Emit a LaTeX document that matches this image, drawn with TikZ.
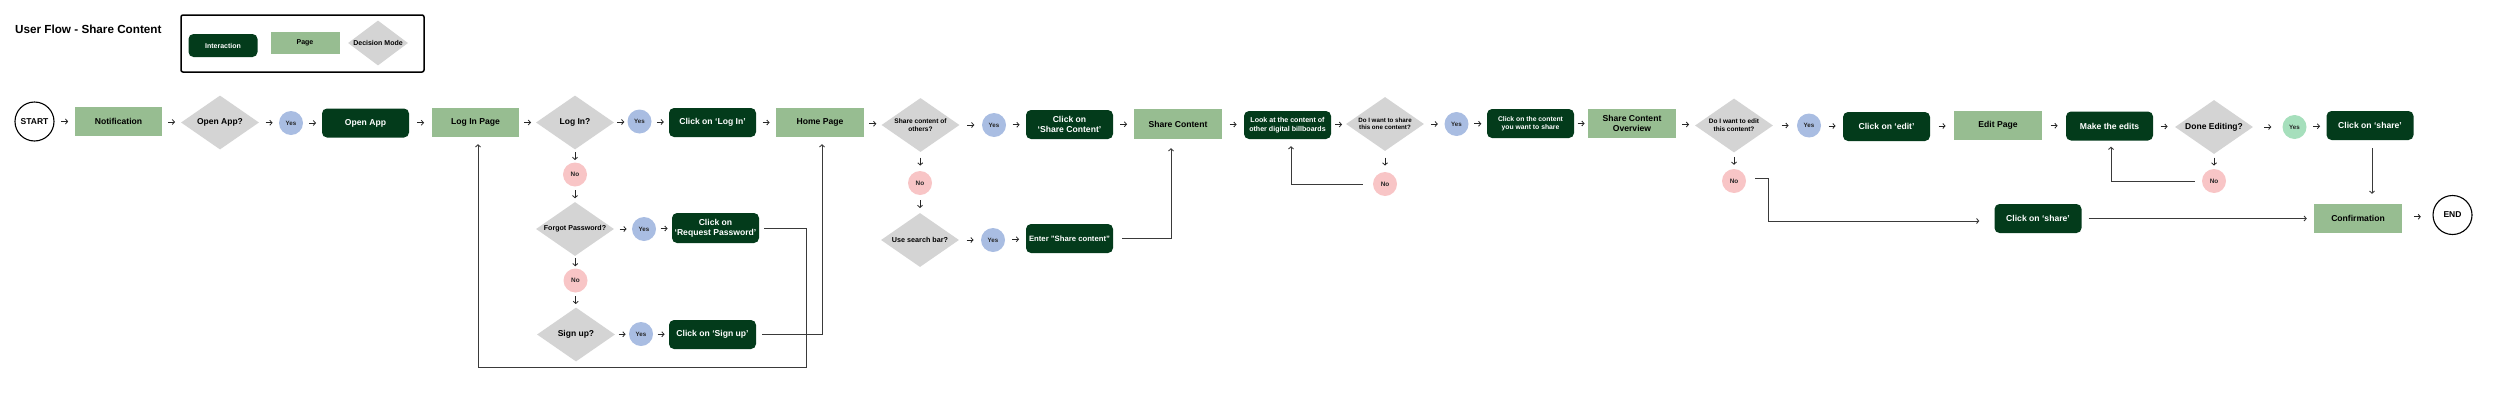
\documentclass[tikz,border=0pt]{standalone}
\usepackage{fontspec}
\setmainfont{Liberation Sans}
\usetikzlibrary{shapes.geometric,arrows.meta,calc}
\definecolor{idark}{HTML}{033B1B}
\definecolor{pgreen}{HTML}{97BD91}
\definecolor{dgray}{HTML}{D4D4D4}
\definecolor{yblue}{HTML}{A9BDE2}
\definecolor{npink}{HTML}{F8C5C6}
\definecolor{ygreen}{HTML}{A6DFBC}
\definecolor{lgray}{HTML}{3A3A3A}
\newcommand\fs[1]{\bfseries\fontsize{#1}{1.2\dimexpr#1pt\relax}\selectfont}
\tikzset{
  inter/.style={fill=idark, rounded corners=5pt, minimum width=87pt, minimum height=29pt,
    text=white, font=\fs{8.6}, align=center, inner sep=0pt},
  pagebox/.style={fill=pgreen, minimum width=88pt, minimum height=29pt, text=black,
    font=\fs{8.6}, align=center, inner sep=0pt},
  dec/.style={diamond, fill=dgray, minimum width=78pt, minimum height=54pt, shape aspect=1.45,
    inner sep=0pt, align=center, text=black},
  yesb/.style={circle, fill=yblue, minimum size=24pt, inner sep=0pt, font=\fs{6.2}, text=black!85},
  yesg/.style={yesb, fill=ygreen},
  nob/.style={circle, fill=npink, minimum size=24pt, inner sep=0pt, font=\fs{6.4}, text=black!85},
  term/.style={circle, draw=black, line width=1.1pt, minimum size=39pt, inner sep=0pt, font=\fs{8.5}},
  sar/.style={-{Straight Barb[length=2.2pt,width=5pt]}, line width=0.8pt, black!85},
  con/.style={-{Straight Barb[length=2.2pt,width=5pt]}, line width=0.9pt, lgray},
}
\newcommand\harr[2]{\draw[sar] ($(#1.east)!0.5!(#2.west)+(-3.5,0)$) -- ++(7,0);}
\newcommand\varr[2]{\draw[sar] ($(#1.south)!0.5!(#2.north)+(0,-4)$) -- ++(0,8);}
\begin{document}
\begin{tikzpicture}[x=1pt,y=-1pt]
\useasboundingbox (0,0) rectangle (2500,410);
% title and legend
\node[anchor=west, font=\fs{11.7}, inner sep=0pt] (title) at (15,29) {User Flow - Share Content};
\draw[line width=1.5pt, rounded corners=2pt] (181,15) rectangle (424,72);
\node[inter, minimum width=69pt, minimum height=23pt, font=\fs{7}] (lint) at (223,45.5) {Interaction};
\node[pagebox, minimum width=69pt, minimum height=22pt, font=\fs{7}] (lpage) at (305,43) {Page};
\node[dec, minimum width=60pt, minimum height=45pt, shape aspect=1.33, font=\fs{7}] (ldec) at (378,43) {Decision Mode};
% main row
\node[term] (start) at (34.5,121.5) {START};
\node[pagebox, minimum width=87pt] (notif) at (118.5,121.5) {Notification};
\node[dec, font=\fs{8.5}] (openq) at (220,122.5) {Open App?};
\node[yesb] (yes1) at (291,123) {Yes};
\node[inter] (openapp) at (365.5,123) {Open App};
\node[pagebox, minimum width=87pt] (loginpage) at (475.5,122.5) {Log In Page};
\node[dec, font=\fs{8.5}] (loginq) at (575,122.5) {Log In?};
\node[yesb] (yes2) at (639.5,121.5) {Yes};
\node[inter] (clicklogin) at (712.5,122.5) {Click on `Log In'};
\node[pagebox] (home) at (820,122.5) {Home Page};
% login branch
\node[nob] (no1) at (575,174.5) {No};
\node[dec, font=\fs{7.1}] (forgotq) at (575,229) {Forgot Password?};
\node[yesb] (yes3) at (644,229) {Yes};
\node[inter, minimum height=30pt] (reqpw) at (715.5,228) {Click on\\`Request Password'};
\node[nob] (no2) at (575.5,280.5) {No};
\node[dec, font=\fs{8.5}] (signq) at (576,334.5) {Sign up?};
\node[yesb] (yes4) at (641,334) {Yes};
\node[inter] (signclick) at (712.5,334.5) {Click on `Sign up'};
% share branch
\node[dec, font=\fs{6.6}] (shareq) at (920.5,125) {Share content of\\others?};
\node[yesb] (yes5) at (994,125) {Yes};
\node[inter] (clickshare) at (1069.5,124.5) {Click on\\`Share Content'};
\node[pagebox, minimum height=30pt] (sharec) at (1178,124) {Share Content};
\node[nob] (no6) at (920,183) {No};
\node[dec, font=\fs{7.2}] (searchq) at (920,240) {Use search bar?};
\node[yesb] (yes6) at (993,240) {Yes};
\node[inter, font=\fs{7.7}] (enter) at (1069.5,238.5) {Enter "Share content"};
\node[inter, font=\fs{7.1}, minimum height=28pt] (look) at (1287.5,125) {Look at the content of\\other digital billboards};
\node[dec, font=\fs{6.2}] (wantq) at (1385,124) {Do I want to share\\this one content?};
\node[nob] (no3) at (1385,184) {No};
\node[yesb] (yes7) at (1456.5,124) {Yes};
\node[inter, font=\fs{6.8}] (clickcontent) at (1530.5,123.5) {Click on the content\\you want to share};
\node[pagebox] (overview) at (1632,123.5) {Share Content\\Overview};
\node[dec, font=\fs{6.5}] (editq) at (1734,125.5) {Do I want to edit\\this content?};
\node[yesb] (yes8) at (1809,125.5) {Yes};
\node[nob] (no4) at (1734,181) {No};
\node[inter] (clickedit) at (1886.5,126.5) {Click on `edit'};
\node[pagebox] (editpage) at (1998,125.5) {Edit Page};
\node[inter] (edits) at (2109.5,126) {Make the edits};
\node[dec, font=\fs{8.5}] (doneq) at (2214,127) {Done Editing?};
\node[yesg] (yes9) at (2294.5,127) {Yes};
\node[nob] (no5) at (2214,181) {No};
\node[inter] (share1) at (2370,125.5) {Click on `share'};
\node[inter] (share2) at (2038,218.5) {Click on `share'};
\node[pagebox] (confirm) at (2358,218.5) {Confirmation};
\node[term] (end) at (2452.5,215) {END};
% short arrows
\harr{start}{notif}
\harr{notif}{openq}
\harr{openq}{yes1}
\harr{yes1}{openapp}
\harr{openapp}{loginpage}
\harr{loginpage}{loginq}
\harr{loginq}{yes2}
\harr{yes2}{clicklogin}
\harr{clicklogin}{home}
\harr{forgotq}{yes3}
\harr{yes3}{reqpw}
\harr{signq}{yes4}
\harr{yes4}{signclick}
\harr{home}{shareq}
\harr{shareq}{yes5}
\harr{yes5}{clickshare}
\harr{clickshare}{sharec}
\harr{searchq}{yes6}
\harr{yes6}{enter}
\harr{sharec}{look}
\harr{look}{wantq}
\harr{wantq}{yes7}
\harr{yes7}{clickcontent}
\harr{clickcontent}{overview}
\harr{overview}{editq}
\harr{editq}{yes8}
\harr{yes8}{clickedit}
\harr{clickedit}{editpage}
\harr{editpage}{edits}
\harr{edits}{doneq}
\harr{doneq}{yes9}
\harr{yes9}{share1}
\harr{confirm}{end}
\varr{loginq}{no1}
\varr{no1}{forgotq}
\varr{forgotq}{no2}
\varr{no2}{signq}
\varr{shareq}{no6}
\varr{no6}{searchq}
\varr{wantq}{no3}
\varr{editq}{no4}
\varr{doneq}{no5}
% long connectors
\draw[con] ([xshift=5pt]reqpw.east) -- ++(42,0) -- ++(0,139) -| ([xshift=2.5pt,yshift=-7pt]loginpage.south);
\draw[con] ([xshift=6pt]signclick.east) -| ([xshift=2pt,yshift=-7pt]home.south);
\draw[con] ([xshift=9pt]enter.east) -| ([xshift=-7pt,yshift=-9pt]sharec.south);
\draw[con] ([xshift=-10pt]no3.west) -| ([xshift=3.5pt,yshift=-7pt]look.south);
\draw[con] ([xshift=9pt,yshift=3pt]no4.east) -- ++(13,0) |- ([xshift=-15pt,yshift=-2.5pt]share2.west);
\draw[con] ([xshift=7pt]share2.east) -- ([xshift=-7pt]confirm.west);
\draw[con] ([xshift=-7pt]no5.west) -| ([xshift=1.5pt,yshift=-6pt]edits.south);
\coordinate (c1) at ([xshift=2pt]share1.south);
\draw[con] ([yshift=-8pt]c1) -- ([yshift=10pt]c1 |- confirm.north);
\end{tikzpicture}
\end{document}
